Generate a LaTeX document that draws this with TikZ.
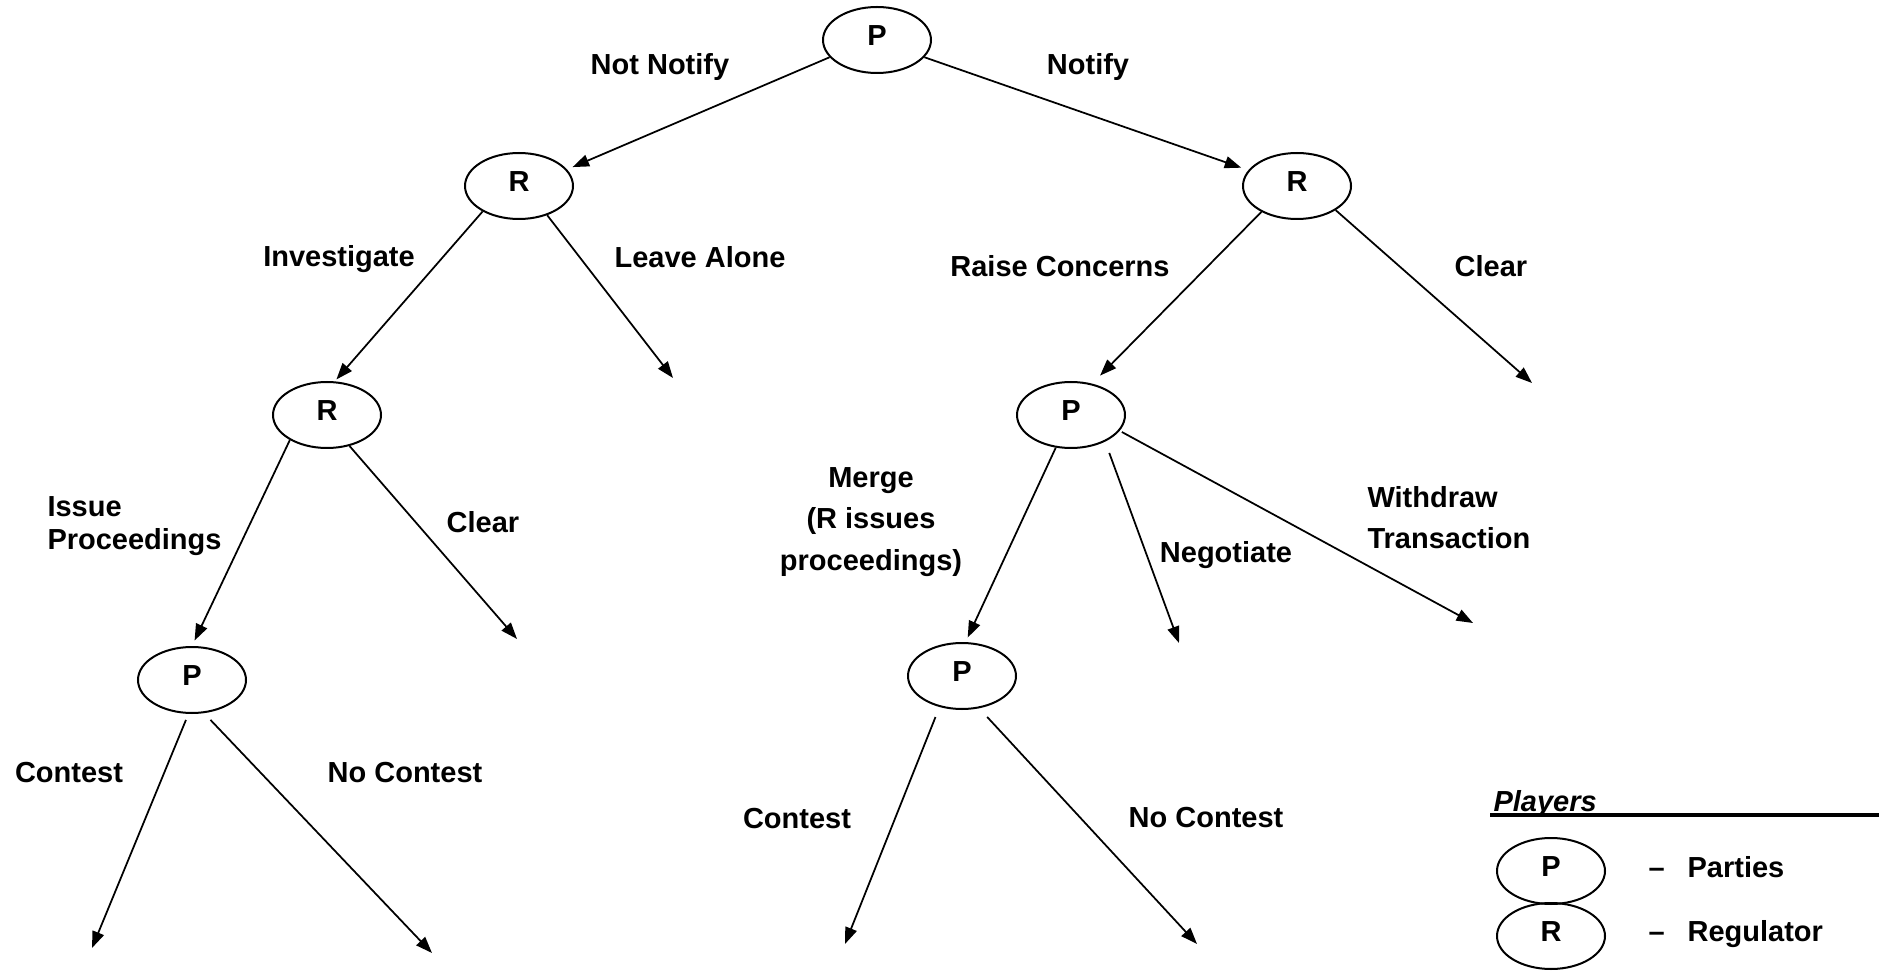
\documentclass[tikz,border=0pt]{standalone}
\usepackage{fontspec}
\setmainfont{Liberation Sans}
\usetikzlibrary{shapes.geometric,arrows.meta}

\begin{document}
\begin{tikzpicture}
[x=0.4pt,y=-0.4pt,%
  nodeDecorate/.style={shape=ellipse,draw,line width=0.8pt,inner sep=0pt,
    minimum width=43.2pt,minimum height=26.4pt,text depth=3.2pt,
    font=\bfseries\fontsize{11.6}{13.4}\selectfont},
  lineDecorate/.style={-{Triangle[length=6.6pt,width=4.8pt]},line width=0.7pt},
  labelDecorate/.style={inner sep=0pt,font=\bfseries\fontsize{11.6}{13.4}\selectfont}]
\useasboundingbox (0,0) rectangle (1879,971);
%% nodes or vertices
\foreach \nodename/\x/\y/\player in {
  p0/877/40/P, r1/519/186/R, r2/1297/186/R, r3/327/415/R,
  p4/1071/415/P, p5/192/680/P, p6/962/676/P}
{
  \node (\nodename) at (\x,\y) [nodeDecorate] {\player};
}
%% loose ends of the moves
\foreach \endname/\x/\y in {
  endLeave/673/378, endClearR/1532/383, endClearL/517/639,
  endNegotiate/1179/643, endWithdraw/1473/623, endContestL/92/948,
  endNoContestL/432/953, endContestR/845/944, endNoContestR/1197/944}
{
  \coordinate (\endname) at (\x,\y);
}
%% edges or lines
\path
\foreach \startnode/\startangle/\endnode/\endangle/\gap in {
  p0/200/r1/19/2.4pt, p0/340/r2/162/3pt, r1/215/r3/77/1pt,
  r2/216/p4/56/4.5pt, r3/214/p5/90/2.4pt, p4/245/p6/84/2pt}
{
  (\startnode.\startangle) edge[lineDecorate,shorten >=\gap] (\endnode.\endangle)
};
\path
\foreach \startnode/\startangle/\endname/\gap in {
  r1/314/endLeave/0pt, r2/328/endClearR/0pt, r3/306/endClearL/0pt,
  p4/322/endNegotiate/4.8pt, p4/342/endWithdraw/1pt,
  p5/264/endContestL/2.6pt, p5/290/endNoContestL/3.7pt,
  p6/234/endContestR/4.3pt, p6/298/endNoContestR/4.7pt}
{
  (\startnode.\startangle) edge[lineDecorate,shorten <=\gap] (\endname)
};
%% labels of the moves
\foreach \labelname/\x/\y/\move in {
  lNotNotify/660/75/Not Notify, lNotify/1088/75/Notify,
  lInvestigate/339/267/Investigate, lLeave/700/268/Leave Alone,
  lRaise/1060/277/Raise Concerns, lClearR/1491/277/Clear,
  lClearL/483/533/Clear, lNegotiate/1226/562/Negotiate,
  lContestL/69/782/Contest, lNoContestL/405/782/No Contest,
  lContestR/797/828/Contest, lNoContestR/1206/827/No Contest}
{
  \node (\labelname) at (\x,\y) [labelDecorate,anchor=base] {\move};
}
\node (lIssue) at (47,496) [labelDecorate,anchor=north west,align=left]
  {Issue\\Proceedings};
\node (lMerge) at (871,467) [labelDecorate,anchor=north,align=center]
  {Merge\\[3.2pt](R issues\\[3.2pt]proceedings)};
\node (lWithdraw) at (1367,486) [labelDecorate,anchor=north west,align=left]
  {Withdraw\\[3pt]Transaction};
%% key to the players
\node (lPlayers) at (1493,811) [labelDecorate,anchor=base west,
  font=\bfseries\itshape\fontsize{11.6}{13.4}\selectfont] {Players};
\coordinate (underlineL) at (1490,815);
\coordinate (underlineR) at (1879,815);
\draw[line width=1.5pt] (underlineL) -- (underlineR);
\node (keyP) at (1551,871) [nodeDecorate] {P};
\node (keyR) at (1551,936) [nodeDecorate] {R};
\node (lParties) at (1648,877) [labelDecorate,anchor=base west]
  {--\hspace{9.2pt}Parties};
\node (lRegulator) at (1648,941) [labelDecorate,anchor=base west]
  {--\hspace{9.2pt}Regulator};
\end{tikzpicture}
\end{document}
